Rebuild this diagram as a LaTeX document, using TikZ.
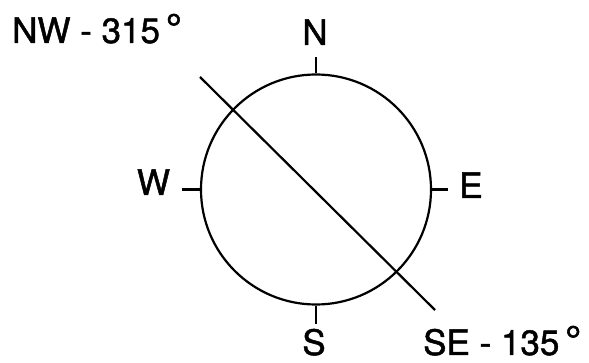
\documentclass[tikz,border=0pt]{standalone}
\usepackage{fontspec}
\setmainfont{TeX Gyre Heros}[FakeBold=1.4]
\newcommand{\degmark}{\raisebox{1pt}{\fontsize{40}{40}\selectfont °}}
\begin{document}
\begin{tikzpicture}[x=1pt,y=-1pt,
  lbl/.style={inner sep=0pt, anchor=base, font=\fontsize{35}{40}\selectfont},
  ln/.style={line width=2.2pt, black},
  tick/.style={line width=2.4pt, black}]
\useasboundingbox (0,0) rectangle (589,363);
\node[circle, draw, ln, minimum size=230pt, inner sep=0pt] (c) at (316,189.5) {};
\coordinate (nwend) at (200,77);
\coordinate (seend) at (435,310);
\draw[ln] (nwend) -- (seend);
\draw[tick] (c.north) -- ++(0,-16) coordinate (tn);
\draw[tick] (c.west) -- ++(-18,0) coordinate (tw);
\draw[tick] (c.east) -- ++(16,0) coordinate (te);
\draw[tick] (c.south) -- ++(0,18) coordinate (ts);
\node[lbl] (n) at (315,45) {N};
\node[lbl] (w) at (153.5,195) {W};
\node[lbl] (e) at (471,198) {E};
\node[lbl] (s) at (314,355) {S};
\node[lbl, anchor=base west] (nw) at (12,43) {NW - 315\,\degmark};
\node[lbl, anchor=base west] (se) at (423,355) {SE - 135\,\degmark};
\end{tikzpicture}
\end{document}
